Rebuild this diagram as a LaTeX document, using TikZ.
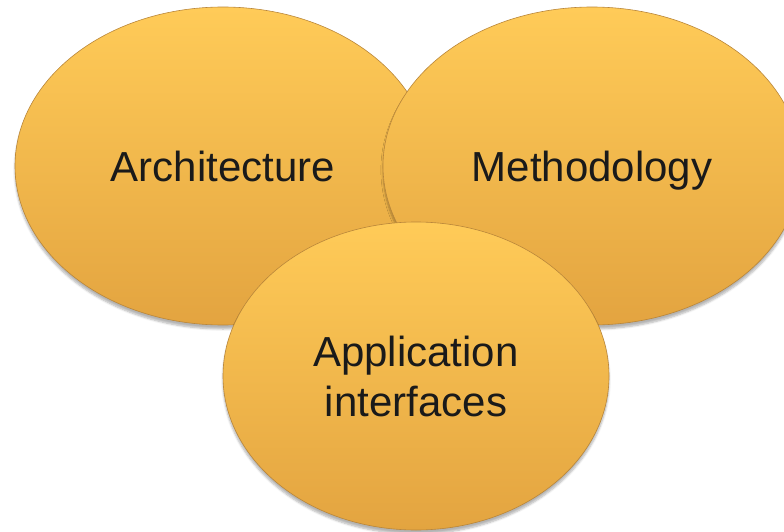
\documentclass[tikz,border=0pt]{standalone}
\usepackage{fontspec}
\setmainfont{Liberation Sans}
\usepackage{tikz}
\usetikzlibrary{shapes.geometric}
\usetikzlibrary{shadows.blur}
\definecolor{goldtop}{HTML}{FFCB58}
\definecolor{goldbot}{HTML}{E3A440}
\definecolor{goldrim}{HTML}{B9863A}
\definecolor{inktext}{HTML}{1A1A1A}

\begin{document}
\begin{tikzpicture}[x=1pt, y=-1pt,
	every node/.style={ellipse, draw=goldrim, line width=0.6pt,
	                   top color=goldtop, bottom color=goldbot,
	                   blur shadow={shadow xshift=0pt, shadow yshift=-4pt,
	                                shadow blur steps=6, shadow opacity=30},
	                   text=inktext, inner sep=0pt,
	                   font=\fontsize{42}{50}\selectfont}]
	\useasboundingbox (0,0) rectangle (784,532);
	\begin{scope}[every node/.append style={text depth=0pt}]
		\node[minimum width=416pt, minimum height=318pt] (arch) at (223,166) {Architecture};
		\node[minimum width=418pt, minimum height=318pt] (meth) at (592,166) {Methodology};
	\end{scope}
	\node[minimum width=386pt, minimum height=308pt, align=center] (app) at (416,376) {Application\\interfaces};
\end{tikzpicture}
\end{document}
